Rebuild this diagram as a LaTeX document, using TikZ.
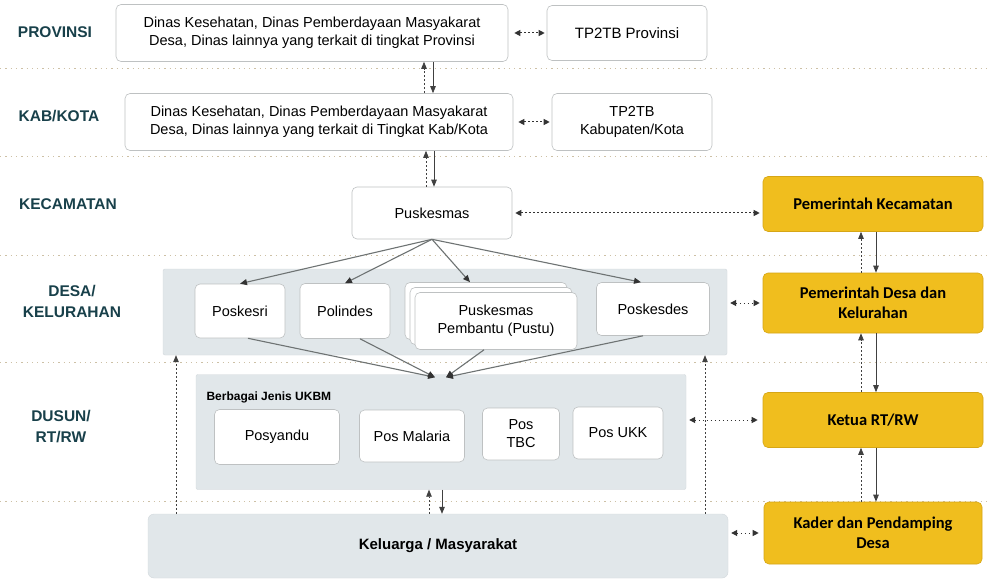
\documentclass[tikz,border=0pt]{standalone}
\usepackage{fontspec}
\setmainfont{Liberation Sans}
\newfontfamily\yfont{Carlito}
\usetikzlibrary{arrows.meta,calc}
\definecolor{lvlc}{RGB}{24,64,74}
\definecolor{yel}{RGB}{240,190,30}
\definecolor{yelb}{RGB}{214,166,22}
\definecolor{pan}{RGB}{225,231,234}
\definecolor{panb}{RGB}{210,216,220}
\definecolor{bord}{RGB}{190,193,194}
\definecolor{sepc}{RGB}{205,192,165}
\definecolor{arrg}{RGB}{110,115,115}
\begin{document}
\begin{tikzpicture}[x=1pt,y=-1pt,
  wbox/.style={draw=bord, fill=white, rounded corners=5pt, line width=0.6pt, align=center, font=\fontsize{14.5}{18}\selectfont, inner sep=0pt},
  ybox/.style={draw=yelb, fill=yel, rounded corners=5pt, line width=0.6pt, align=center, font=\yfont\bfseries\fontsize{16.5}{19.5}\selectfont, inner sep=0pt},
  panel/.style={fill=pan, draw=panb, line width=0.4pt, rounded corners=2pt, inner sep=0pt},
  lvl/.style={text=lvlc, font=\bfseries\fontsize{15.5}{21}\selectfont, align=center},
  sep/.style={draw=sepc, line width=0.9pt, dash pattern=on 1.3pt off 4pt},
  dotarr/.style={draw=black!80, line width=1pt, dash pattern=on 1.5pt off 2.5pt, {Triangle[length=6pt,width=6pt]}-{Triangle[length=6pt,width=6pt]}},
  uparr/.style={draw=black!75, line width=0.7pt, dash pattern=on 2pt off 2pt, -{Triangle[length=7pt,width=5.5pt]}},
  dnarr/.style={draw=black!75, line width=0.7pt, -{Triangle[length=7pt,width=5.5pt]}},
  grarr/.style={draw=arrg, line width=1.1pt, -{Triangle[length=7pt,width=6pt,color=black!80]}},
]
\fill[white] (0,0) rectangle (988,580);
\useasboundingbox (0,0) rectangle (988,580);

% separators
\draw[sep] (0,68) -- (988,68);
\draw[sep] (0,156) -- (988,156);
\draw[sep] (0,255) -- (988,255);
\draw[sep] (0,362) -- (988,362);
\draw[sep] (0,501) -- (988,501);

% level labels
\node[lvl] (lprov) at (55,32) {PROVINSI};
\node[lvl] (lkab) at (59,116) {KAB/KOTA};
\node[lvl] (lkec) at (68,204) {KECAMATAN};
\node[lvl] (ldesa) at (72,301) {DESA/\\KELURAHAN};
\node[lvl] (ldusun) at (61,427) {DUSUN/\\RT/RW};

% top boxes
\node[wbox, minimum width=392pt, minimum height=57pt] (prov) at (312,33) {Dinas Kesehatan, Dinas Pemberdayaan Masyakarat\\Desa, Dinas lainnya yang terkait di tingkat Provinsi};
\node[wbox, minimum width=160pt, minimum height=55pt, font=\fontsize{15}{18}\selectfont] (tpprov) at (627,33) {TP2TB Provinsi};
\node[wbox, minimum width=388pt, minimum height=57pt] (kab) at (319,122) {Dinas Kesehatan, Dinas Pemberdayaan Masyakarat\\Desa, Dinas lainnya yang terkait di Tingkat Kab/Kota};
\node[wbox, minimum width=160pt, minimum height=57pt] (tpkab) at (632,122) {TP2TB\\Kabupaten/Kota};
\node[wbox, minimum width=160pt, minimum height=52pt] (pusk) at (432,213) {Puskesmas};

% yellow column
\node[ybox, minimum width=220pt, minimum height=55pt] (pemkec) at (873,204) {Pemerintah Kecamatan};
\node[ybox, minimum width=220pt, minimum height=60pt] (pemdesa) at (873,303) {Pemerintah Desa dan\\Kelurahan};
\node[ybox, minimum width=220pt, minimum height=55pt] (ketua) at (873,420) {Ketua RT/RW};
\node[ybox, minimum width=218pt, minimum height=62pt] (kader) at (873,533) {Kader dan Pendamping\\Desa};

% desa panel
\node[panel, minimum width=564pt, minimum height=86pt] (desa) at (445,312) {};
\node[wbox, minimum width=90pt, minimum height=54pt] (poskesri) at (240,311) {Poskesri};
\node[wbox, minimum width=90pt, minimum height=55pt] (polindes) at (345,311) {Polindes};
\node[wbox, minimum width=162pt, minimum height=57pt] (pustub) at (486,311) {};
\node[wbox, minimum width=162pt, minimum height=57pt] (pustua) at (491,316) {};
\node[wbox, minimum width=162pt, minimum height=57pt] (pustu) at (496,321) {Puskesmas\\Pembantu (Pustu)};
\node[wbox, minimum width=113pt, minimum height=53pt] (poskesdes) at (653,309) {Poskesdes};

% ukbm panel
\node[panel, minimum width=490pt, minimum height=115pt] (ukbm) at (441,432) {};
\node[anchor=west, font=\bfseries\fontsize{12}{13}\selectfont] (ukbml) at (203,397) {Berbagai Jenis UKBM};
\node[wbox, minimum width=125pt, minimum height=55pt] (posyandu) at (277,437) {Posyandu};
\node[wbox, minimum width=105pt, minimum height=52pt] (posmal) at (412,436) {Pos Malaria};
\node[wbox, minimum width=77pt, minimum height=52pt] (postbc) at (521,434) {Pos\\TBC};
\node[wbox, minimum width=90pt, minimum height=52pt] (posukk) at (618,433) {Pos UKK};

% keluarga
\node[panel, rounded corners=6pt, minimum width=580pt, minimum height=64pt, font=\bfseries\fontsize{15}{18}\selectfont] (kel) at (438,546) {Keluarga / Masyarakat};

\coordinate (lx) at (176,0);
\coordinate (rx) at (705,0);

% vertical pairs centre column
\draw[uparr] ($(kab.north -| pusk.north)+(-8,0)$) -- ($(prov.south -| pusk.north)+(-8,0)$);
\draw[dnarr] ($(prov.south -| pusk.north)+(1,0)$) -- ($(kab.north -| pusk.north)+(1,0)$);
\draw[uparr] ($(pusk.north)+(-6,0)$) -- ($(kab.south -| pusk.north)+(-6,0)$);
\draw[dnarr] ($(kab.south -| pusk.north)+(2,0)$) -- ($(pusk.north)+(2,0)$);

% horizontal dotted double arrows
\draw[dotarr, shorten <=6pt, shorten >=2pt] (prov.east) -- (tpprov.west);
\draw[dotarr, shorten <=5pt, shorten >=2pt] (kab.east) -- (tpkab.west);
\draw[dotarr, shorten <=3pt, shorten >=3pt] (pusk.east) -- (pusk.east -| pemkec.west);
\draw[dotarr, shorten <=3pt, shorten >=3pt] (desa.east |- pemdesa.west) -- (pemdesa.west);
\draw[dotarr, shorten <=3pt, shorten >=5pt] (ukbm.east |- ketua.west) -- (ketua.west);
\draw[dotarr, shorten <=3pt, shorten >=5pt] (kel.east |- kader.west) -- (kader.west);

% yellow chain
\draw[uparr] ($(pemdesa.north)+(-12,0)$) -- ($(pemkec.south)+(-12,0)$);
\draw[dnarr] ($(pemkec.south)+(3,0)$) -- ($(pemdesa.north)+(3,0)$);
\draw[uparr] ($(ketua.north)+(-12,0)$) -- ($(pemdesa.south)+(-12,0)$);
\draw[dnarr] ($(pemdesa.south)+(3,0)$) -- ($(ketua.north)+(3,0)$);
\draw[uparr] ($(kader.north)+(-12,0)$) -- ($(ketua.south)+(-12,0)$);
\draw[dnarr] ($(ketua.south)+(3,0)$) -- ($(kader.north)+(3,0)$);

% puskesmas to desa facilities
\draw[grarr] (pusk.south) -- (poskesri.north);
\draw[grarr] (pusk.south) -- (polindes.north);
\draw[grarr] (pusk.south) -- ($(pustub.north)+(-16,0)$);
\draw[grarr] (pusk.south) -- ($(poskesdes.north)+(-12,0)$);

% desa facilities to ukbm
\draw[grarr] ($(poskesri.south)+(8,0)$) -- ($(ukbm.north)+(-6,3)$);
\draw[grarr] ($(polindes.south)+(15,0)$) -- ($(ukbm.north)+(-6,3)$);
\draw[grarr] ($(pustu.south)+(-12,0)$) -- ($(ukbm.north)+(5,3)$);
\draw[grarr] ($(poskesdes.south)+(-10,0)$) -- ($(ukbm.north)+(5,3)$);

% ukbm <-> keluarga
\draw[uparr] ($(kel.north -| ukbm.south)+(-12,0)$) -- ($(ukbm.south)+(-12,0)$);
\draw[dnarr] ($(ukbm.south)+(1,0)$) -- ($(kel.north -| ukbm.south)+(1,0)$);

% keluarga up to desa panel
\draw[uparr] (kel.north -| lx) -- (desa.south -| lx);
\draw[uparr] (kel.north -| rx) -- (desa.south -| rx);
\end{tikzpicture}
\end{document}
